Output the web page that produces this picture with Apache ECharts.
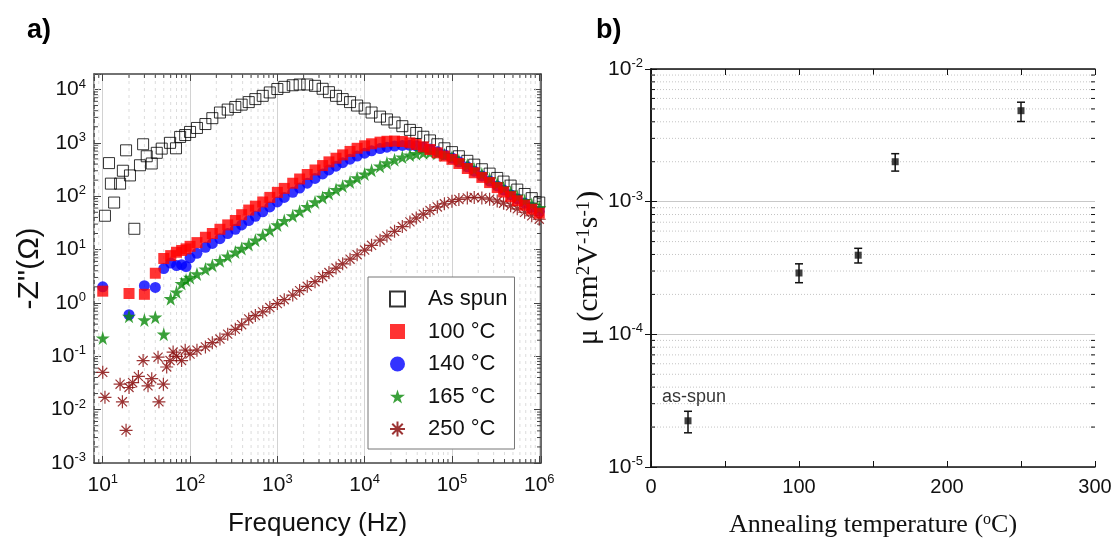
<!DOCTYPE html>
<html><head><meta charset="utf-8">
<script src="https://cdn.jsdelivr.net/npm/echarts@6.0.0/dist/echarts.min.js"></script>
<style>html,body{margin:0;padding:0;background:#fff}#c{width:1117px;height:544px}</style>
</head><body><div id="c"></div><script>
// ---------- Panel a data ----------
const freqHigh = [120,150,180,220,270,330,390,470,560,680,820,
  1000,1200,1500,1800,2200,2700,3300,3900,4700,5600,6800,8200,
  10000,12000,15000,18000,22000,27000,33000,39000,47000,56000,68000,82000,
  100000,120000,150000,180000,220000,270000,330000,390000,470000,560000,680000,820000,
  1000000];
const freqLowAsSpun = [10.6,11.8,12.4,13.5,15.8,17,18.5,20.5,23,26.7,29,31.9,36.4,41.6,47.4,59,69,77,88,100];
const zLowAsSpun = [43,417,172,76,172,300,724,245,24.5,380,940,560,410,650,780,1000,790,1290,1400,1600];
const zHighAsSpun = [1900,2250,2900,3700,4200,4700,5200,5800,6600,7600,8800,
  10200,11200,12000,12400,12400,11700,10300,8900,7600,6600,5800,5000,
  4400,3700,3100,2750,2400,2050,1750,1530,1300,1110,940,790,
  670,560,460,390,320,265,220,188,158,133,110,92,
  76];
const freqLowAnnealed = [10,20,30,40,50,60,70,80,90,100];
const zLow100 = [1.66,1.5,1.45,3.6,6.8,7.7,8.9,9.6,10.3,11.5];
const zHigh100 = [13.5,17,20,24,29,35,45,55,65,78,95,
  118,140,175,210,255,310,375,440,515,595,690,790,
  880,960,1030,1070,1080,1060,1000,930,840,750,650,565,
  490,410,330,275,225,180,145,120,98,82,68,57,
  48];
const zLow140 = [2.0,0.6,2.1,1.95,4.4,5.6,5.0,5.2,4.8,7.0];
const zHigh140 = [8.5,11,13,16,20,24,29,35,42,51,63,
  78,95,118,142,175,215,262,310,365,425,495,565,
  640,710,780,830,870,895,900,880,830,770,680,600,
  520,440,355,295,240,192,156,130,107,89,74,62,
  52];
const zLow165 = [0.22,0.56,0.48,0.54,0.26,1.2,1.6,2.3,2.7,3.0];
const zHigh165 = [3.5,4.3,5.1,6.2,7.5,9,10.5,12.5,15,18.5,23,
  29,35,43,52,64,78,95,112,133,155,185,220,
  260,305,365,420,480,540,590,625,650,660,640,595,
  535,465,385,320,262,212,172,143,118,99,83,71,
  61];
const freqLow250 = [10,10.6,15.8,16.8,18.5,20,22,25.6,29,33,36.4,43,44,49.5,54,59,64,70,80,88,100];
const zLow250 = [0.050,0.017,0.030,0.014,0.0041,0.026,0.032,0.042,0.083,0.028,0.038,0.096,0.014,0.030,0.063,0.083,0.12,0.10,0.083,0.13,0.11];
const zHigh250 = [0.13,0.15,0.18,0.21,0.26,0.32,0.39,0.5,0.58,0.68,0.82,
  0.97,1.15,1.4,1.7,2.05,2.5,3.1,3.7,4.5,5.4,6.6,8,
  9.8,12,15,18,22,27,33,39,46,54,63,72,
  80,87,93,95,93,88,81,74,66,58,50,43,
  37];
const seriesNames = ['As spun','100 °C','140 °C','165 °C','250 °C'];

// ---------- Panel b data ----------
const annealTemp = [25,100,140,165,250];
const mobility = [2.23e-5,2.9e-4,3.95e-4,2.0e-3,4.85e-3];
const mobilityLow = [1.81e-5,2.45e-4,3.45e-4,1.7e-3,4.02e-3];
const mobilityHigh = [2.63e-5,3.4e-4,4.45e-4,2.3e-3,5.62e-3];
const xTicksB = [0,100,200,300];

// ---------- helpers ----------
const SANS = 'Liberation Sans, Arial, sans-serif';
const SERIF = 'Liberation Serif, Times New Roman, serif';
function pairs(f, z) { return f.map((v,i)=>[v, z[i]]); }
function isPow(v){ const e=Math.log10(v); return Math.abs(e-Math.round(e))<1e-6; }
function powFmt(v){ if(!isPow(v)) return ''; return '{b|10}{s|'+Math.round(Math.log10(v))+'}'; }
const powRich = {
  b:{fontSize:21,fontFamily:SANS,color:'#111',lineHeight:24},
  s:{fontSize:13,fontFamily:SANS,color:'#111',lineHeight:10,verticalAlign:'top'}
};
function minorVals(k0,k1,lo,hi){ const out=[]; for(let k=k0;k<=k1;k++){ for(let m=2;m<=9;m++){ const v=m*Math.pow(10,k); if(v>lo&&v<hi) out.push(v);} } return out; }
function minorX(xi, yi, vals, yRef, opt){
  return {type:'custom', xAxisIndex:xi, yAxisIndex:yi, silent:true, z:opt.z||1, clip:false,
    data: vals.map(v=>[v,yRef]),
    renderItem(params, api){
      const cs=params.coordSys; const x=api.coord([api.value(0),api.value(1)])[0];
      const top=cs.y, bot=cs.y+cs.height, ch=[];
      if(opt.grid) ch.push({type:'line',shape:{x1:x,y1:top,x2:x,y2:bot},style:{stroke:opt.grid,lineWidth:1,lineDash:opt.dash}});
      if(opt.tick){ ch.push({type:'line',shape:{x1:x,y1:bot,x2:x,y2:bot-opt.tick},style:{stroke:opt.tc,lineWidth:1}});
        ch.push({type:'line',shape:{x1:x,y1:top,x2:x,y2:top+opt.tick},style:{stroke:opt.tc,lineWidth:1}}); }
      return {type:'group',children:ch};
    }};
}
function minorY(xi, yi, vals, xRef, opt){
  return {type:'custom', xAxisIndex:xi, yAxisIndex:yi, silent:true, z:opt.z||1, clip:false,
    data: vals.map(v=>[xRef,v]),
    renderItem(params, api){
      const cs=params.coordSys; const y=api.coord([api.value(0),api.value(1)])[1];
      const l=cs.x, r=cs.x+cs.width, ch=[];
      if(opt.grid) ch.push({type:'line',shape:{x1:l,y1:y,x2:r,y2:y},style:{stroke:opt.grid,lineWidth:1,lineDash:opt.dash}});
      if(opt.tick){ ch.push({type:'line',shape:{x1:l,y1:y,x2:l+opt.tick,y2:y},style:{stroke:opt.tc,lineWidth:1}});
        ch.push({type:'line',shape:{x1:r,y1:y,x2:r-opt.tick,y2:y},style:{stroke:opt.tc,lineWidth:1}}); }
      return {type:'group',children:ch};
    }};
}
const STAR = 'path://M50,0 L61,35 L98,35 L68,57 L79,91 L50,70 L21,91 L32,57 L2,35 L39,35 Z';
const ASTER = 'path://M0,50 L100,50 M50,0 L50,100 M15,15 L85,85 M15,85 L85,15';

const AX_A = '#444', AX_B = '#111';
const xMinA = 7.94, xMaxA = 1.047e6, yMinA = 1e-3, yMaxA = 19500;

const option = {
  animation:false,
  backgroundColor:'#fff',
  graphic:[
    {type:'text',left:27,top:17,style:{text:'a)',font:'bold 27px '+SANS,fill:'#000'}},
    {type:'text',left:596,top:17,style:{text:'b)',font:'bold 27px '+SANS,fill:'#000'}}
  ],
  grid:[
    {left:94,top:74,width:447,height:389},
    {left:651,top:69,width:444,height:398}
  ],
  legend:{
    orient:'vertical', left:368, top:277, padding:[11,7,9,21],
    itemWidth:15, itemHeight:15, itemGap:10.5,
    backgroundColor:'#fff', borderColor:'#777', borderWidth:1,
    textStyle:{fontSize:22, lineHeight:22, fontFamily:SANS, color:'#111', padding:[0,0,0,18]},
    data:[
      {name:'As spun', icon:'rect'},
      {name:'100 °C', icon:'rect'},
      {name:'140 °C', icon:'circle'},
      {name:'165 °C', icon:STAR},
      {name:'250 °C', icon:ASTER}
    ], z:20
  },
  xAxis:[
    {type:'log', gridIndex:0, min:xMinA, max:xMaxA,
     axisLine:{lineStyle:{color:AX_A,width:1.5}},
     axisTick:{inside:true,length:7,lineStyle:{color:AX_A}},
     axisLabel:{formatter:powFmt, rich:powRich, margin:10, showMinLabel:false, showMaxLabel:true},
     splitLine:{show:true,lineStyle:{color:'#d2d2d2',width:1}},
     name:'Frequency (Hz)', nameLocation:'middle', nameGap:48,
     nameTextStyle:{fontSize:26,fontFamily:SANS,color:'#111'}},
    {type:'log', gridIndex:0, position:'top', min:xMinA, max:xMaxA,
     axisLine:{lineStyle:{color:AX_A,width:1.5}},
     axisTick:{inside:true,length:7,lineStyle:{color:AX_A}},
     axisLabel:{show:false}, splitLine:{show:false}},
    {type:'value', gridIndex:1, min:0, max:300, interval:50,
     axisLine:{lineStyle:{color:AX_B,width:1.5}},
     axisTick:{inside:true,length:6,lineStyle:{color:AX_B}},
     axisLabel:{formatter:v=>xTicksB.indexOf(v)>=0?String(v):'', fontSize:20, fontFamily:SANS, color:'#111', margin:10},
     splitLine:{show:false},
     name:'Annealing temperature ({o|o}C)', nameLocation:'middle', nameGap:45,
     nameTextStyle:{fontSize:26,fontFamily:SERIF,color:'#111',
       rich:{o:{fontSize:16,fontFamily:SERIF,color:'#111',lineHeight:10,verticalAlign:'top'}}}},
    {type:'value', gridIndex:1, position:'top', min:0, max:300, interval:50,
     axisLine:{lineStyle:{color:AX_B,width:1.5}},
     axisTick:{inside:true,length:6,lineStyle:{color:AX_B}},
     axisLabel:{show:false}, splitLine:{show:false}}
  ],
  yAxis:[
    {type:'log', gridIndex:0, min:yMinA, max:yMaxA,
     axisLine:{lineStyle:{color:AX_A,width:1.5}},
     axisTick:{inside:true,length:7,lineStyle:{color:AX_A}},
     axisLabel:{formatter:powFmt, rich:powRich, margin:8},
     splitLine:{show:false},
     name:"-Z''(Ω)", nameLocation:'middle', nameGap:49,
     nameTextStyle:{fontSize:30,fontFamily:SANS,color:'#111'}},
    {type:'log', gridIndex:0, position:'right', min:yMinA, max:yMaxA,
     axisLine:{lineStyle:{color:AX_A,width:1.5}},
     axisTick:{inside:true,length:7,lineStyle:{color:AX_A}},
     axisLabel:{show:false}, splitLine:{show:false}},
    {type:'log', gridIndex:1, min:1e-5, max:1e-2,
     axisLine:{lineStyle:{color:AX_B,width:1.5}},
     axisTick:{inside:true,length:6,lineStyle:{color:AX_B}},
     axisLabel:{formatter:powFmt, rich:powRich, margin:8},
     splitLine:{show:true,lineStyle:{color:'#c8c8c8',width:1}},
     name:'μ (cm{s|2}V{s|-1}s{s|-1})', nameLocation:'middle', nameGap:26,
     nameTextStyle:{fontSize:30,fontFamily:SERIF,color:'#111',
       rich:{s:{fontSize:19,fontFamily:SERIF,color:'#111',lineHeight:12,verticalAlign:'top'}}}},
    {type:'log', gridIndex:1, position:'right', min:1e-5, max:1e-2,
     axisLine:{lineStyle:{color:AX_B,width:1.5}},
     axisTick:{inside:true,length:6,lineStyle:{color:AX_B}},
     axisLabel:{show:false}, splitLine:{show:false}}
  ],
  series:[
    minorX(0,0,minorVals(0,5,xMinA,xMaxA),1,{grid:'#dcdcdc',dash:[3,4],tick:4,tc:AX_A,z:1}),
    minorY(0,0,minorVals(-3,4,yMinA,yMaxA),100,{tick:4,tc:AX_A,z:1}),
    minorY(2,2,minorVals(-5,-3,1e-5,1e-2),100,{grid:'#c4c4c4',dash:[1,2],tick:4,tc:AX_B,z:1}),
    {name:'As spun', type:'scatter', xAxisIndex:0, yAxisIndex:0, symbol:'rect', symbolSize:11,
     itemStyle:{color:'rgba(255,255,255,0)', borderColor:'#000', borderWidth:1}, z:3,
     data:pairs(freqLowAsSpun.concat(freqHigh), zLowAsSpun.concat(zHighAsSpun))},
    {name:'140 °C', type:'scatter', xAxisIndex:0, yAxisIndex:0, symbol:'circle', symbolSize:11,
     itemStyle:{color:'#0000ff'}, z:3,
     data:pairs(freqLowAnnealed.concat(freqHigh), zLow140.concat(zHigh140))},
    {name:'165 °C', type:'scatter', xAxisIndex:0, yAxisIndex:0, symbol:STAR, symbolSize:14,
     itemStyle:{color:'#0a8a0a'}, z:3,
     data:pairs(freqLowAnnealed.concat(freqHigh), zLow165.concat(zHigh165))},
    {name:'250 °C', type:'scatter', xAxisIndex:0, yAxisIndex:0, symbol:ASTER, symbolSize:13,
     itemStyle:{color:'rgba(0,0,0,0)', borderColor:'#8b1010', borderWidth:1.2, opacity:0.85}, z:3,
     data:pairs(freqLow250.concat(freqHigh), zLow250.concat(zHigh250))},
    {name:'100 °C', type:'scatter', xAxisIndex:0, yAxisIndex:0, symbol:'rect', symbolSize:11,
     itemStyle:{color:'#ff0000'}, z:3,
     data:pairs(freqLowAnnealed.concat(freqHigh), zLow100.concat(zHigh100))},
    {type:'custom', xAxisIndex:2, yAxisIndex:2, z:4, silent:true,
     data: annealTemp.map((t,i)=>[t, mobilityLow[i], mobilityHigh[i]]),
     renderItem(params, api){
       const pLo=api.coord([api.value(0),api.value(1)]), pHi=api.coord([api.value(0),api.value(2)]);
       const w=4, st={stroke:'#111',lineWidth:1.5};
       return {type:'group',children:[
         {type:'line',shape:{x1:pLo[0],y1:pLo[1],x2:pHi[0],y2:pHi[1]},style:st},
         {type:'line',shape:{x1:pLo[0]-w,y1:pLo[1],x2:pLo[0]+w,y2:pLo[1]},style:st},
         {type:'line',shape:{x1:pHi[0]-w,y1:pHi[1],x2:pHi[0]+w,y2:pHi[1]},style:st}
       ]};
     }},
    {type:'scatter', xAxisIndex:2, yAxisIndex:2, symbol:'rect', symbolSize:7, z:5,
     itemStyle:{color:'#111'},
     data: annealTemp.map((t,i)=> i===0 ? {value:[t,mobility[i]], label:{show:true, formatter:'as-spun', position:'top', distance:11, offset:[6,0], fontSize:18, fontFamily:SANS, color:'#000'}} : [t,mobility[i]])}
  ]
};
const chart = echarts.init(document.getElementById('c'), null, {renderer:'canvas'});
chart.setOption(option);
</script></body></html>
